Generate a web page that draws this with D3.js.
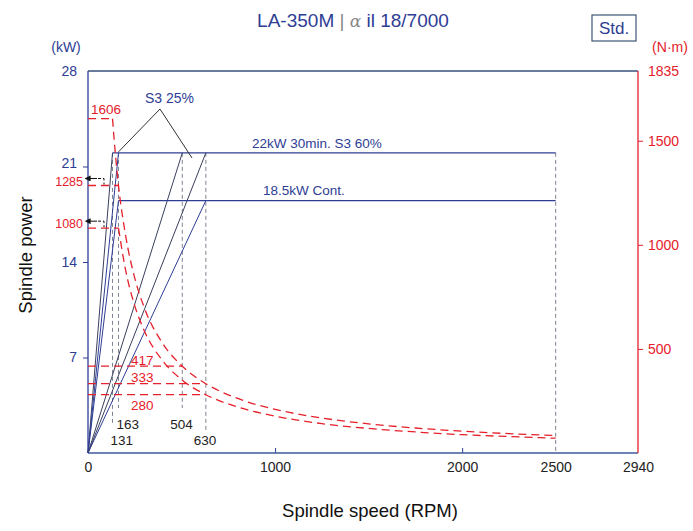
<!DOCTYPE html>
<html>
<head>
<meta charset="utf-8">
<script src="https://cdn.jsdelivr.net/npm/d3@7"></script>
<style>
  html, body { margin: 0; padding: 0; background: #ffffff; }
  svg { display: block; font-family: "Liberation Sans", Arial, Helvetica, sans-serif; }
</style>
</head>
<body>
<svg id="chart" width="693" height="531"></svg>
<script>
// ---------- data ----------
const powerTicks = [7, 14, 21, 28];
const torqueTicks = [500, 1000, 1500, 1835];
const speedTicks = [0, 1000, 2000, 2500, 2940];

// base speeds (RPM)
const baseSpeeds = [131, 163, 504, 630];
const maxSpeed = 2500;

// power ratings (kW)
const powerS3_60 = 22;     // 22kW 30min. S3 60%
const powerCont = 18.5;    // 18.5kW Cont.

// power rise lines from origin: [speed, kW]
const powerRiseLines = [
  {to: [131, 22], dark: true},
  {to: [163, 22], dark: false},
  {to: [163, 18.5], dark: false},
  {to: [504, 22], dark: true},
  {to: [630, 22], dark: true},
  {to: [630, 18.5], dark: false}
];

// torque levels (N·m) : constant torque up to base speed
const torqueLevels = [
  {t: 1606, upTo: 131},
  {t: 1285, upTo: 163},
  {t: 1080, upTo: 163},
  {t: 417, upTo: 504},
  {t: 333, upTo: 630},
  {t: 280, upTo: 630}
];

// torque curves: [speed, N·m]
const torque22 = [[131,1606],[145,1450],[163,1285],[200,1050],[250,840],[300,700],[400,525],[504,417],[630,333],[800,262],[1000,210],[1250,168],[1500,140],[1750,120],[2000,105],[2250,93],[2500,84]];
const torque185 = [[163,1080],[200,883],[250,707],[300,589],[400,442],[504,350],[630,280],[800,221],[1000,177],[1250,141],[1500,118],[1750,101],[2000,88],[2250,79],[2500,71]];

// ---------- setup ----------
const BLUE = "#2e3d94";
const RED = "#e5202b";
const GRAY = "#7d8491";
const DARK = "#333";
const FONT = "'Liberation Sans', Arial, sans-serif";

const svg = d3.select("#chart");
const L = 88, R = 638, T = 71, B = 453;

const x = d3.scaleLinear().domain([0, 2940]).range([L, R]);
const yP = d3.scaleLinear().domain([0, 28]).range([B, T]);
const yT = d3.scaleLinear().domain([0, 1835]).range([B, T]);
const fmt = d3.format("d");

// ---------- title ----------
const title = svg.append("text").attr("x", 353).attr("y", 27)
  .attr("text-anchor", "middle").attr("font-size", 19).attr("fill", BLUE);
title.append("tspan").text("LA-350M");
title.append("tspan").attr("fill", "#888").text(" | ");
title.append("tspan").attr("fill", "#888").attr("font-style", "italic")
  .attr("font-family", "'DejaVu Serif', serif").attr("font-size", 17).text("α");
title.append("tspan").text(" il 18/7000");

svg.append("rect").attr("x", 592).attr("y", 15).attr("width", 44).attr("height", 26)
  .attr("fill", "none").attr("stroke", "#3d5578").attr("stroke-width", 1.2);
svg.append("text").attr("x", 614).attr("y", 34).attr("text-anchor", "middle")
  .attr("font-size", 17).attr("fill", BLUE).text("Std.");

svg.append("text").attr("x", 66).attr("y", 52).attr("text-anchor", "middle")
  .attr("font-size", 14).attr("fill", BLUE).text("(kW)");
svg.append("text").attr("x", 670).attr("y", 52).attr("text-anchor", "middle")
  .attr("font-size", 14).attr("fill", RED).text("(N·m)");

// ---------- axes ----------
const axL = svg.append("g").attr("transform", `translate(${L},0)`)
  .call(d3.axisLeft(yP).tickValues(powerTicks).tickFormat(fmt).tickSize(5).tickPadding(6));
axL.select(".domain").remove();
axL.selectAll("line").attr("stroke", BLUE);
axL.selectAll("text").attr("fill", BLUE).attr("font-size", 14).attr("font-family", FONT);
axL.selectAll(".tick").filter(d => d === 28).select("line").remove();
axL.selectAll(".tick").filter(d => d === 21).select("text").attr("dy", "0.1em");

const axR = svg.append("g").attr("transform", `translate(${R},0)`)
  .call(d3.axisRight(yT).tickValues(torqueTicks).tickFormat(fmt).tickSize(5).tickPadding(5));
axR.select(".domain").remove();
axR.selectAll("line").attr("stroke", RED);
axR.selectAll("text").attr("fill", RED).attr("font-size", 14).attr("font-family", FONT);
axR.selectAll(".tick").filter(d => d === 1835).select("line").remove();

const axB = svg.append("g").attr("transform", `translate(0,${B})`)
  .call(d3.axisBottom(x).tickValues(speedTicks).tickFormat(fmt).tickSize(-5).tickPadding(9));
axB.select(".domain").remove();
axB.selectAll("line").attr("stroke", BLUE);
axB.selectAll(".tick").filter(d => d === 0 || d === 2940 || d === 2500).select("line").remove();
axB.selectAll("text").attr("fill", "#222").attr("font-size", 14).attr("font-family", FONT);

// frame
svg.append("line").attr("x1", L).attr("x2", R).attr("y1", T).attr("y2", T).attr("stroke", "#3a4f7a").attr("stroke-width", 1.3);
svg.append("line").attr("x1", L).attr("x2", L).attr("y1", T).attr("y2", B).attr("stroke", BLUE).attr("stroke-width", 1.3);
svg.append("line").attr("x1", L).attr("x2", R).attr("y1", B).attr("y2", B).attr("stroke", "#3b5a9a").attr("stroke-width", 1.5);
svg.append("line").attr("x1", R).attr("x2", R).attr("y1", T).attr("y2", B).attr("stroke", RED).attr("stroke-width", 1.3);

// axis titles
svg.append("text").attr("x", 370).attr("y", 517).attr("text-anchor", "middle")
  .attr("font-size", 18.5).attr("fill", "#111").text("Spindle speed (RPM)");
svg.append("text").attr("transform", "translate(32,255) rotate(-90)").attr("text-anchor", "middle")
  .attr("font-size", 18.5).attr("fill", "#111").text("Spindle power");

// ---------- gray dashed verticals ----------
const vLines = [
  {s: 131, top: powerS3_60, bottom: 2},
  {s: 163, top: powerS3_60, bottom: 3.3},
  {s: 504, top: powerS3_60, bottom: 3.3},
  {s: 630, top: powerS3_60, bottom: 1.5},
  {s: maxSpeed, top: powerS3_60, bottom: 0}
];
svg.append("g").selectAll("line").data(vLines).join("line")
  .attr("x1", d => x(d.s)).attr("x2", d => x(d.s))
  .attr("y1", d => yP(d.top)).attr("y2", d => yP(d.bottom))
  .attr("stroke", GRAY).attr("stroke-width", 1).attr("stroke-dasharray", "4,3");

// speed labels
const speedLabels = [
  {s: 131, p: 0.55, dx: -2},
  {s: 163, p: 1.75, dx: -2},
  {s: 504, p: 1.75, dx: -12},
  {s: 630, p: 0.55, dx: -12}
];
svg.append("g").selectAll("text").data(speedLabels).join("text")
  .attr("x", d => x(d.s) + d.dx).attr("y", d => yP(d.p))
  .attr("font-size", 13.5).attr("fill", "#222").text(d => d.s);

// ---------- power ----------
svg.append("g").selectAll("line").data(powerRiseLines).join("line")
  .attr("x1", x(0)).attr("y1", yP(0))
  .attr("x2", d => x(d.to[0])).attr("y2", d => yP(d.to[1]))
  .attr("stroke", d => d.dark ? "#3a3f5c" : BLUE).attr("stroke-width", 1);

svg.append("line").attr("x1", x(131)).attr("x2", x(maxSpeed))
  .attr("y1", yP(powerS3_60)).attr("y2", yP(powerS3_60)).attr("stroke", BLUE).attr("stroke-width", 1.1);
svg.append("line").attr("x1", x(163)).attr("x2", x(maxSpeed))
  .attr("y1", yP(powerCont)).attr("y2", yP(powerCont)).attr("stroke", BLUE).attr("stroke-width", 1.1);

svg.append("text").attr("x", 252).attr("y", 148).attr("font-size", 13.5).attr("fill", BLUE)
  .text("22kW 30min. S3 60%");
svg.append("text").attr("x", 263).attr("y", 195).attr("font-size", 13.5).attr("fill", BLUE)
  .text("18.5kW Cont.");

// S3 25% label and leaders
svg.append("text").attr("x", 145).attr("y", 103).attr("font-size", 14).attr("fill", BLUE).text("S3 25%");
svg.append("path").attr("d", `M${x(163)},${yP(22) - 1} L160,109 L192,158`)
  .attr("fill", "none").attr("stroke", DARK).attr("stroke-width", 1);

// ---------- torque ----------
const red = svg.append("g").attr("fill", "none").attr("stroke", RED)
  .attr("stroke-width", 1.3).attr("stroke-dasharray", "8,5");

red.selectAll("line").data(torqueLevels).join("line")
  .attr("x1", x(0)).attr("x2", d => x(d.upTo))
  .attr("y1", d => yT(d.t)).attr("y2", d => yT(d.t));

const lineGen = d3.line().x(d => x(d[0])).y(d => yT(d[1])).curve(d3.curveMonotoneX);
red.append("path").attr("d", lineGen(torque22));
red.append("path").attr("d", lineGen(torque185));

// torque labels
const tLabels = [
  {t: 1606, x: 91, dy: -5, anchor: "start"},
  {t: 1285, x: 83, dy: 1, anchor: "end"},
  {t: 1080, x: 83, dy: 0, anchor: "end"},
  {t: 417, x: 131, dy: -1, anchor: "start"},
  {t: 333, x: 131, dy: -2, anchor: "start"},
  {t: 280, x: 131, dy: 15, anchor: "start"}
];
svg.append("g").selectAll("text").data(tLabels).join("text")
  .attr("x", d => d.x).attr("y", d => yT(d.t) + d.dy)
  .attr("text-anchor", d => d.anchor)
  .attr("font-size", d => (d.t === 1285 || d.t === 1080) ? 12.5 : 13.5)
  .attr("fill", RED).text(d => d.t);

// small arrows at 1285 and 1080
svg.append("defs").append("marker").attr("id", "arr").attr("viewBox", "0 0 10 10")
  .attr("refX", 1).attr("refY", 5).attr("markerWidth", 6).attr("markerHeight", 6)
  .attr("orient", "auto-start-reverse")
  .append("path").attr("d", "M0,0 L10,5 L0,10 z").attr("fill", "#111");
[1285, 1080].forEach(t => {
  const yy = yT(t) - 7;
  svg.append("line").attr("x1", 97).attr("x2", 90).attr("y1", yy).attr("y2", yy)
    .attr("stroke", "#111").attr("stroke-width", 1).attr("marker-end", "url(#arr)");
  svg.append("path").attr("d", `M98,${yy} L104,${yy} L104,${yy + 6}`)
    .attr("fill", "none").attr("stroke", "#111").attr("stroke-width", 1).attr("stroke-dasharray", "3,2");
});
</script>
</body>
</html>
